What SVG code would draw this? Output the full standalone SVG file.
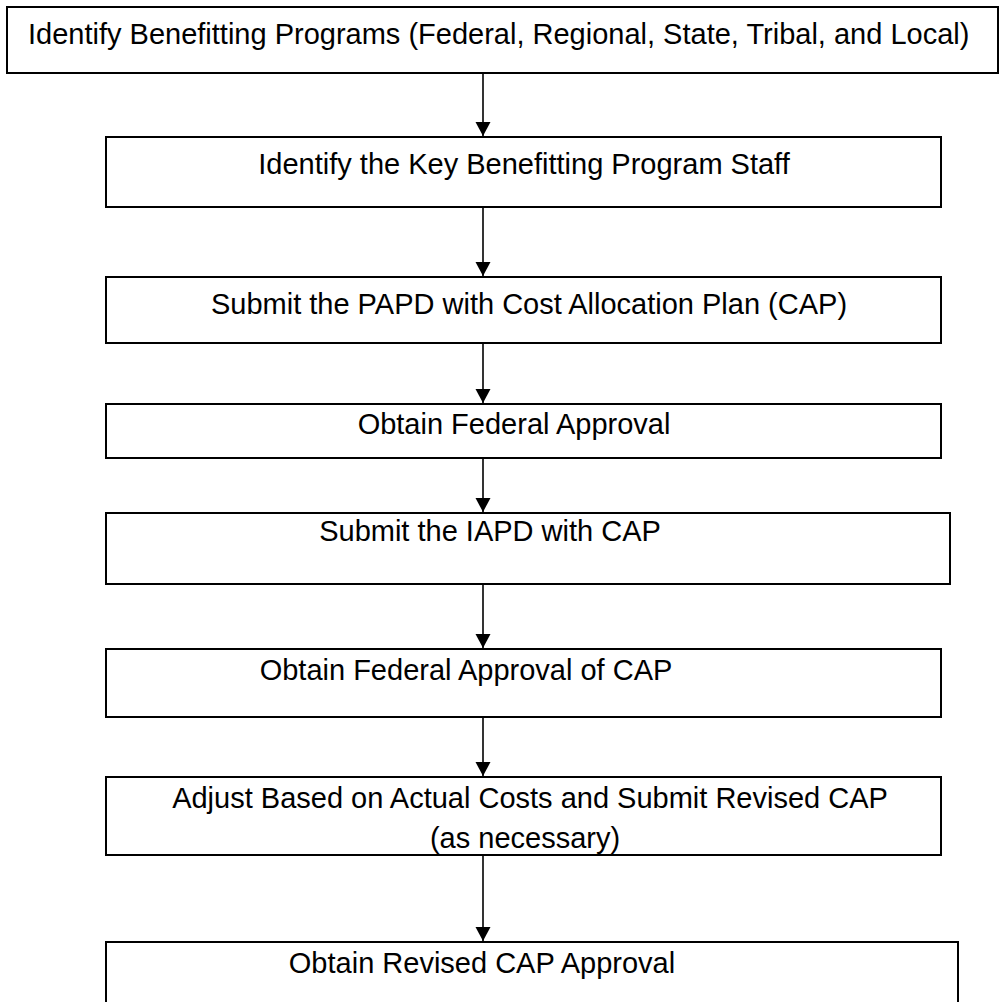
<svg xmlns="http://www.w3.org/2000/svg" width="1000" height="1002" viewBox="0 0 1000 1002">
  <style>
    .box { fill: #ffffff; stroke: #000000; stroke-width: 2; }
    .label { font-family: "Liberation Sans", Arial, sans-serif; font-size: 29px; fill: #000000; }
    .mid { text-anchor: middle; }
    .edge { stroke: #000000; stroke-width: 1.6; fill: none; }
  </style>
  <defs>
    <marker id="arrow" markerUnits="userSpaceOnUse" markerWidth="16" markerHeight="16" viewBox="0 0 16 16" refX="14" refY="8" orient="auto">
      <path d="M0,0.5 L14,8 L0,15.5 Z" fill="#000000"/>
    </marker>
  </defs>

  <rect width="1000" height="1002" fill="#ffffff"/>

  <!-- process steps -->
  <g id="step1">
    <rect class="box" x="7" y="7" width="991" height="66"/>
    <text class="label" x="28" y="44">Identify Benefitting Programs (Federal, Regional, State, Tribal, and Local)</text>
  </g>
  <g id="step2">
    <rect class="box" x="106" y="137" width="835" height="70"/>
    <text class="label mid" x="524" y="174">Identify the Key Benefitting Program Staff</text>
  </g>
  <g id="step3">
    <rect class="box" x="106" y="277" width="835" height="66"/>
    <text class="label mid" x="529" y="314">Submit the PAPD with Cost Allocation Plan (CAP)</text>
  </g>
  <g id="step4">
    <rect class="box" x="106" y="404" width="835" height="54"/>
    <text class="label mid" x="514" y="434">Obtain Federal Approval</text>
  </g>
  <g id="step5">
    <rect class="box" x="106" y="513" width="844" height="71"/>
    <text class="label mid" x="490" y="541">Submit the IAPD with CAP</text>
  </g>
  <g id="step6">
    <rect class="box" x="106" y="649" width="835" height="68"/>
    <text class="label mid" x="466" y="680">Obtain Federal Approval of CAP</text>
  </g>
  <g id="step7">
    <rect class="box" x="106" y="777" width="835" height="78"/>
    <text class="label mid" x="530" y="808">Adjust Based on Actual Costs and Submit Revised CAP</text>
    <text class="label mid" x="525" y="848">(as necessary)</text>
  </g>
  <g id="step8">
    <rect class="box" x="106" y="942" width="852" height="80"/>
    <text class="label mid" x="482" y="973">Obtain Revised CAP Approval</text>
  </g>

  <!-- connectors -->
  <g id="connectors">
    <line class="edge" x1="483" y1="74" x2="483" y2="136" marker-end="url(#arrow)"/>
    <line class="edge" x1="483" y1="208" x2="483" y2="276" marker-end="url(#arrow)"/>
    <line class="edge" x1="483" y1="344" x2="483" y2="403" marker-end="url(#arrow)"/>
    <line class="edge" x1="483" y1="459" x2="483" y2="512" marker-end="url(#arrow)"/>
    <line class="edge" x1="483" y1="585" x2="483" y2="648" marker-end="url(#arrow)"/>
    <line class="edge" x1="483" y1="718" x2="483" y2="776" marker-end="url(#arrow)"/>
    <line class="edge" x1="483" y1="856" x2="483" y2="941" marker-end="url(#arrow)"/>
  </g>
</svg>
